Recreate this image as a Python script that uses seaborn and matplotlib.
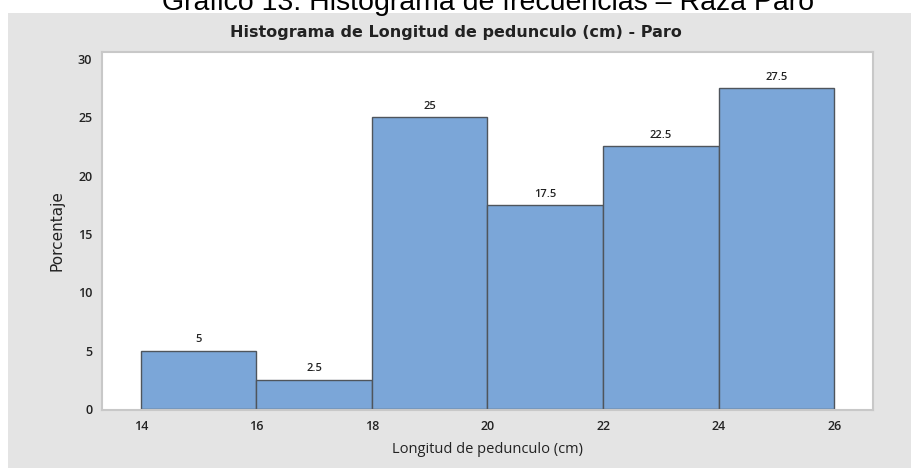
import numpy as np
import matplotlib
matplotlib.use('Agg')
import matplotlib.pyplot as plt
import seaborn as sns
from matplotlib.patches import Rectangle

# bin edges (cm) and percentage per bin
bin_edges = [14, 16, 18, 20, 22, 24, 26]
bin_mids = [15, 17, 19, 21, 23, 25]
percent = [5, 2.5, 25, 17.5, 22.5, 27.5]
bar_labels = ['5', '2.5', '25', '17.5', '22.5', '27.5']
x_ticks = [14, 16, 18, 20, 22, 24, 26]
y_ticks = [0, 5, 10, 15, 20, 25, 30]

sns.set_style('white')
plt.rcParams['font.family'] = ['Open Sans', 'DejaVu Sans']

W, H = 912, 468
fig = plt.figure(figsize=(W / 100, H / 100), dpi=100, facecolor='white')

# minitab-like gray panel behind the plot
panel = Rectangle((8 / W, 0), 1, (H - 13) / H, transform=fig.transFigure,
                  facecolor='#e4e4e4', edgecolor='none', zorder=0)
fig.add_artist(panel)

# caption cut off at the top of the image
fig.text(488 / W, 1 - 10 / H, 'Gráfico 13: Histograma de frecuencias – Raza Paro',
         family='Liberation Sans', fontsize=20.5, ha='center', va='baseline',
         color='black', zorder=1)

ax = fig.add_axes([102 / W, 1 - 410 / H, 771 / W, 358 / H], zorder=2)
ax.set_facecolor('white')

sns.histplot(x=bin_mids, weights=percent, bins=bin_edges, ax=ax,
             color='#7ba6d8', alpha=1, edgecolor='#4f555c', linewidth=1.0)

for m, p, lab in zip(bin_mids, percent, bar_labels):
    ax.text(m, p + 0.45, lab, ha='center', va='bottom', fontsize=8,
            fontweight='semibold', color='#222222')

ax.set_xlim(13.33, 26.67)
ax.set_ylim(-0.1, 30.6)
ax.set_xticks(x_ticks)
ax.set_yticks(y_ticks)
ax.tick_params(axis='both', direction='out', length=4, width=1, color='#999999',
               labelsize=9, labelcolor='#222222', pad=3)
for lab in ax.get_xticklabels() + ax.get_yticklabels():
    lab.set_fontweight('semibold')
for s in ax.spines.values():
    s.set_color('#c8c8c8')
    s.set_linewidth(1.5)

ax.set_xlabel('Longitud de pedunculo (cm)', fontsize=10.5, color='#222222', labelpad=7)
ax.set_ylabel('Porcentaje', family=['Liberation Sans Narrow', 'DejaVu Sans'],
              fontsize=11, color='#222222', labelpad=10)

fig.text(456 / W, 1 - 32 / H, 'Histograma de Longitud de pedunculo (cm) - Paro',
         family=['Liberation Sans Narrow', 'DejaVu Sans'], fontsize=11.5,
         fontweight='semibold', ha='center', va='center', color='#222222', zorder=3)

fig.savefig('out.png', dpi=100, facecolor='white')
